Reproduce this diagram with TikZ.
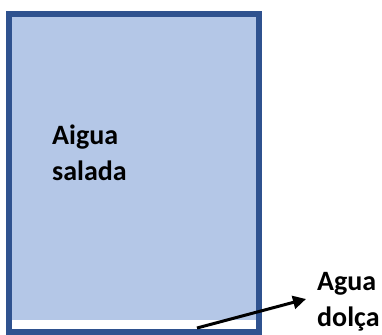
\documentclass[tikz,border=0pt]{standalone}
\usepackage{fontspec}
\setmainfont{Carlito}
\usetikzlibrary{arrows.meta}
\definecolor{boxline}{RGB}{47,82,143}
\definecolor{boxfill}{RGB}{180,199,231}
\tikzset{
  lbl/.style={font=\fontsize{28}{36}\selectfont\bfseries, align=left, inner sep=0pt, anchor=base west},
  flow/.style={line width=3pt, -{Triangle[length=13pt,width=13pt]}}
}
\begin{document}
\begin{tikzpicture}[x=1pt,y=-1pt]
\useasboundingbox (0,0) rectangle (382,334);
% water body
\fill[boxfill] (12,17) rectangle (256,320);
\draw[boxline, line width=6pt] (9,14) rectangle (259,332);
\node[lbl] (salt) at (52,180) {Aigua\\salada};
\node[lbl] (fresh) at (317,326) {Agua\\dolça};
\coordinate (outlet) at (197,328);
\coordinate (tip) at (306,299);
\draw[flow] (outlet) -- (tip);
\end{tikzpicture}
\end{document}
